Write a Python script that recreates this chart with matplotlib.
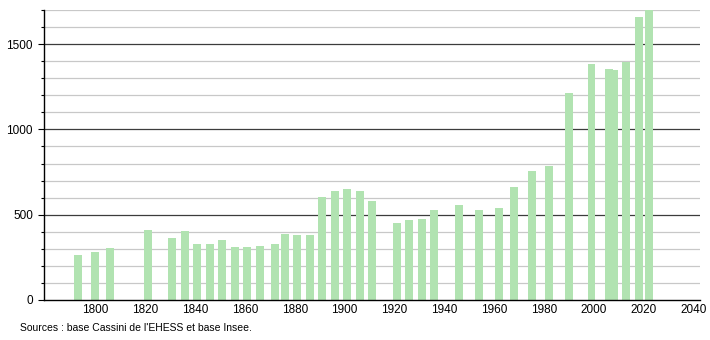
import matplotlib
matplotlib.use("Agg")
import matplotlib.pyplot as plt
from matplotlib.ticker import MultipleLocator

# census years and population
years = [1793, 1800, 1806, 1821, 1831, 1836, 1841, 1846, 1851, 1856,
         1861, 1866, 1872, 1876, 1881, 1886, 1891, 1896, 1901, 1906,
         1911, 1921, 1926, 1931, 1936, 1946, 1954, 1962, 1968, 1975,
         1982, 1990, 1999, 2006, 2008, 2013, 2018, 2022]
population = [265, 284, 302, 410, 362, 402, 331, 330, 349, 308,
              310, 318, 329, 388, 380, 380, 606, 641, 653, 641,
              582, 451, 467, 475, 529, 559, 525, 537, 663, 755,
              788, 1212, 1382, 1353, 1346, 1398, 1657, 1705]
xticks = [1800, 1820, 1840, 1860, 1880, 1900, 1920, 1940, 1960, 1980, 2000, 2020, 2040]
source = "Sources : base Cassini de l'EHESS et base Insee."

plt.rcParams['font.family'] = ['Liberation Sans', 'DejaVu Sans']

fig = plt.figure(figsize=(7.1, 3.4), dpi=100)
ax = fig.add_axes([44/710, 1-300/340, 656/710, 290/340])

ax.bar(years, population, width=3.2, color="#b1e3b1", zorder=2)

# horizontal grid: light every 100, dark every 500
for v in range(100, 1701, 100):
    if v % 500 == 0:
        ax.axhline(v, color="#3c3c3c", linewidth=0.9, zorder=1)
    else:
        ax.axhline(v, color="#c8c8c8", linewidth=0.9, zorder=1)

ax.set_xlim(1779.5, 2042.5)
ax.set_ylim(0, 1700)
ax.set_xticks(xticks)
ax.yaxis.set_major_locator(MultipleLocator(500))
ax.yaxis.set_minor_locator(MultipleLocator(100))
ax.tick_params(axis="x", length=0, pad=3, labelsize=8.5)
ax.tick_params(axis="y", which="major", length=4, width=0.8, pad=4, labelsize=8.5)
ax.tick_params(axis="y", which="minor", length=2, width=0.8)

for s in ["top", "right"]:
    ax.spines[s].set_visible(False)
ax.spines["left"].set_linewidth(1)
ax.spines["bottom"].set_linewidth(1)

fig.text(20/710, 1-328/340, source, fontsize=7.5, va="center", ha="left")

plt.savefig("out.png", dpi=100)
